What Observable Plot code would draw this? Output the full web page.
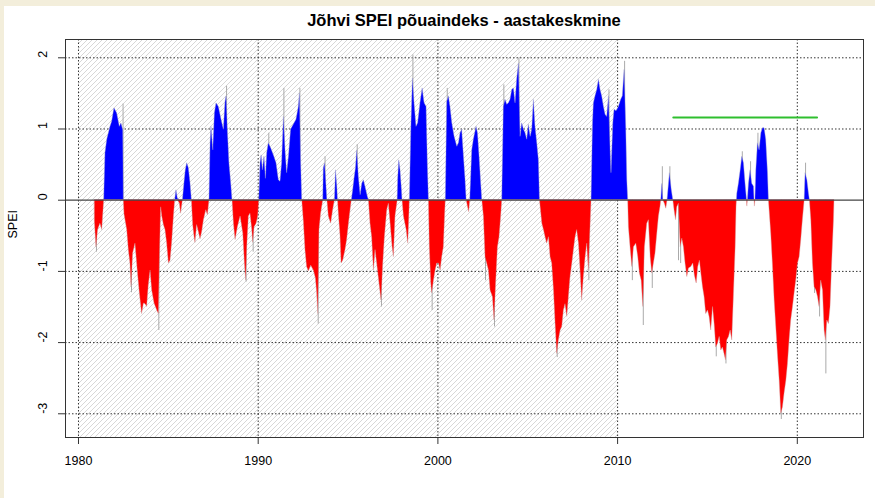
<!DOCTYPE html>
<html>
<head>
<meta charset="utf-8">
<script src="https://cdn.jsdelivr.net/npm/d3@7"></script>
<script src="https://cdn.jsdelivr.net/npm/@observablehq/plot@0.6"></script>
<style>
html,body{margin:0;padding:0;background:#f3eedb;width:875px;height:498px;overflow:hidden;font-family:"Liberation Sans",Arial,sans-serif;}
#panel{position:absolute;left:4px;top:6px;width:871px;height:492px;background:#fff;}
#title{position:absolute;left:65px;top:11px;width:798px;text-align:center;font-weight:bold;font-size:16.5px;line-height:19px;color:#000;}
#chart{position:absolute;left:0;top:32px;}
</style>
</head>
<body>
<div id="panel"></div>
<div id="title">Jõhvi SPEI põuaindeks - aastakeskmine</div>
<div id="chart"></div>
<script>
// SPEI (12-month) values: [decimal year, SPEI]
const speiSeries = [
[1980.91,-0.30],[1981.00,-0.66],[1981.09,-0.42],[1981.22,-0.33],[1981.32,-0.42],[1981.39,-0.15],[1981.43,0],
[1981.50,0.66],[1981.60,0.85],[1981.69,0.94],[1981.78,1.03],[1981.87,1.10],[1982.00,1.29],[1982.15,1.22],[1982.30,1.03],[1982.39,1.08],[1982.49,0.98],[1982.52,0],
[1982.56,-0.20],[1982.71,-0.42],[1982.80,-0.70],[1982.89,-0.89],[1982.95,-1.22],[1983.04,-0.75],[1983.17,-0.61],[1983.30,-1.00],[1983.41,-1.30],[1983.54,-1.60],[1983.64,-1.45],[1983.73,-1.46],[1983.82,-1.50],[1983.91,-1.20],[1984.01,-0.99],[1984.10,-1.27],[1984.23,-1.45],[1984.38,-1.55],[1984.47,-1.60],[1984.55,-0.60],[1984.60,-0.10],[1984.66,-0.23],[1984.75,-0.35],[1984.84,-0.42],[1984.93,-0.60],[1985.03,-0.89],[1985.12,-0.85],[1985.21,-0.60],[1985.31,-0.23],[1985.38,0],
[1985.45,0.14],[1985.53,0.02],[1985.64,-0.05],[1985.71,-0.19],[1985.81,0],
[1985.90,0.25],[1985.97,0.42],[1986.05,0.52],[1986.14,0.45],[1986.23,0.25],[1986.31,0],
[1986.38,-0.35],[1986.46,-0.52],[1986.51,-0.60],[1986.60,-0.35],[1986.70,-0.45],[1986.79,-0.55],[1986.88,-0.45],[1986.98,-0.28],[1987.11,-0.14],[1987.20,-0.21],[1987.29,0],
[1987.35,0.80],[1987.40,1.03],[1987.50,0.70],[1987.59,1.22],[1987.68,1.36],[1987.81,1.31],[1987.96,1.13],[1988.09,0.99],[1988.18,1.38],[1988.24,1.46],[1988.31,0.99],[1988.40,0.52],[1988.50,0.23],[1988.57,0],
[1988.65,-0.33],[1988.74,-0.56],[1988.87,-0.38],[1989.02,-0.23],[1989.17,-0.47],[1989.26,-0.89],[1989.33,-1.13],[1989.39,-0.66],[1989.48,-0.23],[1989.57,-0.19],[1989.67,-0.42],[1989.72,-0.60],[1989.80,-0.38],[1989.91,-0.33],[1990.00,-0.23],[1990.06,0],
[1990.13,0.52],[1990.19,0.63],[1990.26,0.42],[1990.35,0.61],[1990.43,0.30],[1990.50,0.66],[1990.59,0.80],[1990.72,0.73],[1990.87,0.63],[1991.02,0.52],[1991.15,0.28],[1991.24,0.26],[1991.33,0.52],[1991.43,1.17],[1991.52,0.70],[1991.61,0.38],[1991.71,0.61],[1991.83,0.99],[1991.98,1.06],[1992.13,1.13],[1992.26,1.31],[1992.32,1.50],[1992.39,0.52],[1992.45,0],
[1992.54,-0.30],[1992.63,-0.70],[1992.72,-0.94],[1992.82,-1.00],[1992.95,-0.92],[1993.10,-0.99],[1993.21,-1.10],[1993.28,-1.30],[1993.34,-1.60],[1993.41,-0.42],[1993.50,-0.19],[1993.59,-0.05],[1993.62,0],
[1993.65,0.45],[1993.72,0.52],[1993.80,0.20],[1993.85,0],
[1993.93,-0.23],[1994.06,-0.33],[1994.17,-0.14],[1994.27,0],
[1994.33,0.42],[1994.40,0.20],[1994.44,0],
[1994.49,-0.20],[1994.58,-0.50],[1994.64,-0.89],[1994.73,-0.85],[1994.86,-0.70],[1994.95,-0.56],[1995.05,-0.33],[1995.14,-0.14],[1995.21,0],
[1995.29,0.15],[1995.36,0.30],[1995.44,0.45],[1995.51,0.70],[1995.60,0.33],[1995.70,0.07],[1995.79,0.23],[1995.88,0.28],[1995.97,0.19],[1996.10,0.05],[1996.16,0],
[1996.25,-0.33],[1996.34,-0.52],[1996.44,-0.99],[1996.53,-0.70],[1996.62,-0.89],[1996.75,-1.17],[1996.86,-1.41],[1996.96,-0.89],[1997.05,-0.52],[1997.18,-0.14],[1997.27,-0.05],[1997.37,-0.33],[1997.48,-0.66],[1997.55,-0.80],[1997.64,-0.23],[1997.74,-0.05],[1997.76,0],
[1997.79,0.30],[1997.85,0.56],[1997.92,0.42],[1998.00,0.14],[1998.03,0],
[1998.11,-0.23],[1998.26,-0.42],[1998.35,-0.61],[1998.40,-0.30],[1998.44,0],
[1998.52,0.99],[1998.61,1.71],[1998.70,1.36],[1998.81,1.03],[1998.90,1.08],[1999.03,1.36],[1999.15,1.57],[1999.26,1.36],[1999.37,1.31],[1999.44,0.52],[1999.50,0],
[1999.55,-0.66],[1999.63,-1.17],[1999.68,-1.31],[1999.78,-1.13],[1999.87,-0.99],[1999.96,-0.89],[2000.06,-0.89],[2000.15,-0.99],[2000.24,-0.80],[2000.33,-0.66],[2000.41,-0.15],[2000.44,0],
[2000.52,1.38],[2000.61,1.46],[2000.70,1.31],[2000.80,1.08],[2000.93,0.89],[2001.08,0.75],[2001.17,0.80],[2001.26,0.94],[2001.35,0.99],[2001.45,0.61],[2001.54,0.28],[2001.60,0],
[2001.67,-0.09],[2001.74,-0.17],[2001.80,0],
[2001.91,0.70],[2002.00,0.85],[2002.15,1.03],[2002.23,0.94],[2002.32,0.61],[2002.41,0.23],[2002.47,0],
[2002.56,-0.23],[2002.65,-0.80],[2002.74,-0.89],[2002.84,-0.99],[2002.93,-1.27],[2003.06,-1.36],[2003.15,-1.69],[2003.24,-1.17],[2003.34,-0.66],[2003.43,-0.52],[2003.52,-0.23],[2003.58,0],
[2003.67,1.31],[2003.76,1.41],[2003.86,1.34],[2003.95,1.36],[2004.04,1.41],[2004.14,1.55],[2004.23,1.57],[2004.32,1.36],[2004.41,1.69],[2004.51,1.92],[2004.60,0.89],[2004.69,1.08],[2004.79,0.99],[2004.88,0.94],[2004.97,0.85],[2005.06,1.06],[2005.16,0.89],[2005.25,0.99],[2005.34,1.41],[2005.43,1.03],[2005.53,0.80],[2005.62,0.56],[2005.68,0],
[2005.81,-0.33],[2005.90,-0.42],[2005.99,-0.52],[2006.08,-0.61],[2006.18,-0.52],[2006.27,-0.80],[2006.36,-0.89],[2006.46,-1.27],[2006.55,-1.74],[2006.64,-2.16],[2006.73,-1.97],[2006.83,-1.83],[2006.92,-1.78],[2007.01,-1.55],[2007.10,-1.46],[2007.20,-1.64],[2007.29,-1.36],[2007.38,-1.08],[2007.48,-0.89],[2007.57,-0.70],[2007.66,-0.52],[2007.75,-0.42],[2007.85,-0.61],[2007.94,-0.99],[2008.03,-1.41],[2008.12,-1.08],[2008.22,-0.80],[2008.31,-0.61],[2008.40,-0.99],[2008.50,-0.33],[2008.55,0],
[2008.63,1.08],[2008.68,1.36],[2008.77,1.46],[2008.87,1.55],[2008.96,1.69],[2009.05,1.55],[2009.14,1.46],[2009.24,1.31],[2009.33,1.20],[2009.42,1.17],[2009.52,1.46],[2009.61,0.70],[2009.66,0.38],[2009.76,1.08],[2009.83,1.27],[2009.94,1.25],[2010.07,1.31],[2010.20,1.41],[2010.29,1.46],[2010.39,1.83],[2010.48,1.03],[2010.54,0.28],[2010.59,0],
[2010.63,-0.38],[2010.72,-0.66],[2010.82,-0.94],[2010.91,-0.66],[2011.04,-0.61],[2011.15,-0.80],[2011.24,-1.03],[2011.34,-1.13],[2011.43,-1.50],[2011.52,-0.66],[2011.65,-0.33],[2011.74,-0.28],[2011.84,-0.80],[2011.93,-1.03],[2012.02,-0.89],[2012.11,-0.75],[2012.21,-0.47],[2012.30,-0.23],[2012.39,-0.09],[2012.43,0],
[2012.49,0.23],[2012.54,0],[2012.63,-0.05],[2012.71,-0.12],[2012.78,0],
[2012.86,0.23],[2012.91,0.38],[2013.01,0.15],[2013.10,0],
[2013.17,-0.14],[2013.25,-0.28],[2013.32,-0.10],[2013.41,-0.05],
[2013.51,-0.66],[2013.60,-0.54],[2013.69,-0.66],[2013.78,-0.89],[2013.88,-1.08],[2013.97,-0.96],[2014.10,-0.94],[2014.21,-0.89],[2014.30,-1.06],[2014.40,-1.17],[2014.49,-0.94],[2014.58,-0.85],[2014.66,-1.03],[2014.75,-1.22],[2014.84,-1.36],[2014.93,-1.60],[2015.03,-1.55],[2015.12,-1.64],[2015.21,-1.83],[2015.31,-1.50],[2015.40,-1.74],[2015.49,-2.07],[2015.58,-2.02],[2015.68,-1.92],[2015.77,-2.11],[2015.86,-2.07],[2015.95,-2.16],[2016.03,-2.25],[2016.10,-1.97],[2016.20,-1.92],[2016.29,-1.83],[2016.38,-1.97],[2016.47,-1.36],[2016.57,-0.66],[2016.62,-0.09],[2016.64,0],
[2016.66,0.09],[2016.75,0.23],[2016.85,0.42],[2016.94,0.61],[2017.03,0.52],[2017.12,0.23],[2017.20,0],[2017.22,-0.09],[2017.25,0],[2017.31,0.23],[2017.40,0.42],[2017.49,0.23],[2017.59,0.19],[2017.62,0],[2017.64,-0.09],[2017.67,0],[2017.72,0.42],[2017.81,0.80],[2017.90,0.70],[2018.00,0.94],[2018.09,1.01],[2018.18,1.01],[2018.27,0.85],[2018.37,0.38],[2018.42,0],
[2018.55,-0.47],[2018.64,-0.89],[2018.74,-1.41],[2018.83,-1.78],[2018.92,-2.16],[2019.02,-2.54],[2019.11,-3.00],[2019.20,-2.91],[2019.29,-2.72],[2019.39,-2.54],[2019.48,-2.30],[2019.57,-1.97],[2019.66,-1.69],[2019.76,-1.50],[2019.85,-1.31],[2019.94,-1.13],[2020.04,-0.89],[2020.13,-0.80],[2020.22,-0.56],[2020.31,-0.28],[2020.41,0],
[2020.46,0.38],[2020.56,0.28],[2020.65,0.09],[2020.70,0],
[2020.78,-0.28],[2020.87,-0.89],[2020.96,-1.22],[2021.06,-1.27],[2021.15,-1.36],[2021.24,-1.50],[2021.33,-1.13],[2021.43,-1.27],[2021.52,-1.83],[2021.59,-1.97],[2021.67,-1.69],[2021.76,-1.74],[2021.85,-1.50],[2021.94,-0.89],[2022.04,-0.28],[2022.07,0]
];

// single-month extremes shown as thin grey spikes
const greySpikes = [
[1981.00,-0.73],[1982.48,1.35],[1982.95,-1.30],[1984.47,-1.83],[1988.24,1.60],[1989.33,-1.15],[1989.72,-0.73],
[1990.59,0.94],[1991.43,1.57],[1992.32,1.57],[1993.34,-1.74],[1993.72,0.61],[1995.51,0.78],[1996.86,-1.50],
[1998.61,2.04],[1999.68,-1.55],[2000.52,1.57],[2002.65,-1.13],[2003.15,-1.78],[2003.67,1.62],[2004.51,2.00],
[2006.64,-2.21],[2008.40,-1.13],[2009.52,1.55],[2010.39,1.95],[2010.82,-1.13],[2011.43,-1.76],[2011.93,-1.24],
[2012.49,0.47],[2012.91,0.47],[2013.39,-0.85],[2013.51,-0.89],[2015.49,-2.20],[2016.03,-2.30],[2016.94,0.68],
[2017.40,0.54],[2017.81,0.94],[2019.11,-3.08],[2020.46,0.52],[2020.96,-1.31],[2021.24,-1.64],[2021.59,-2.44]
];

const referencePeriod = [[1980, 2010]];
const trendSegment = [[2013.1, 1.16], [2021.1, 1.16]];
const xTicks = [1980, 1990, 2000, 2010, 2020];
const yTicks = [-3, -2, -1, 0, 1, 2];

const chart = Plot.plot({
  width: 875,
  height: 466,
  marginTop: 7,
  marginBottom: 61,
  marginLeft: 65,
  marginRight: 12,
  style: {fontFamily: "'Liberation Sans', Arial, sans-serif", fontSize: "12.5px", background: "transparent", overflow: "visible", color: "#000"},
  x: {domain: [1979.277, 2023.684], axis: null},
  y: {domain: [-3.333, 2.257], axis: null},
  marks: [
    Plot.rect(referencePeriod, {x1: d => d[0], x2: d => d[1], fill: "url(#hatch)"}),
    Plot.ruleX(xTicks, {stroke: "#333", strokeDasharray: "1.5,2"}),
    Plot.ruleY(yTicks.filter(d => d !== 0), {stroke: "#333", strokeDasharray: "1.5,2"}),
    Plot.ruleX(greySpikes, {x: d => d[0], y1: 0, y2: d => d[1], stroke: "#aaa", strokeWidth: 1}),
    Plot.areaY(speiSeries, {x: d => d[0], y: d => Math.max(0, d[1]), fill: "#0000ff", stroke: "#9a9ad0", strokeWidth: 0.4}),
    Plot.areaY(speiSeries, {x: d => d[0], y: d => Math.min(0, d[1]), fill: "#ff0000", stroke: "#d09a9a", strokeWidth: 0.4}),
    Plot.ruleY([0], {stroke: "#444", strokeWidth: 1.2}),
    Plot.line(trendSegment, {x: d => d[0], y: d => d[1], stroke: "#2fbf2f", strokeWidth: 2}),
    Plot.frame({stroke: "#333"}),
    Plot.axisX(xTicks, {tickSize: 7, tickFormat: () => "", stroke: "#333"}),
    Plot.axisY(yTicks, {tickSize: 7, tickFormat: () => "", stroke: "#333"}),
    Plot.text(xTicks, {x: d => d, frameAnchor: "bottom", dy: 23, lineAnchor: "middle", text: d => String(d), fill: "#000"}),
    Plot.text(yTicks, {y: d => d, frameAnchor: "left", dx: -23, rotate: -90, lineAnchor: "middle", text: d => String(d), fill: "#000"}),
    Plot.text(["SPEI"], {frameAnchor: "left", dx: -53, rotate: -90, lineAnchor: "middle", text: d => d, fill: "#000"})
  ]
});

const svg = d3.select(chart);
const defs = svg.insert("defs", ":first-child");
const pat = defs.append("pattern").attr("id", "hatch").attr("patternUnits", "userSpaceOnUse").attr("width", 5).attr("height", 5);
pat.append("path").attr("d", "M-1,1 l2,-2 M0,5 l5,-5 M4,6 l2,-2").attr("stroke", "#d2d2d2").attr("stroke-width", 0.9);
document.getElementById("chart").appendChild(chart);
</script>
</body>
</html>
